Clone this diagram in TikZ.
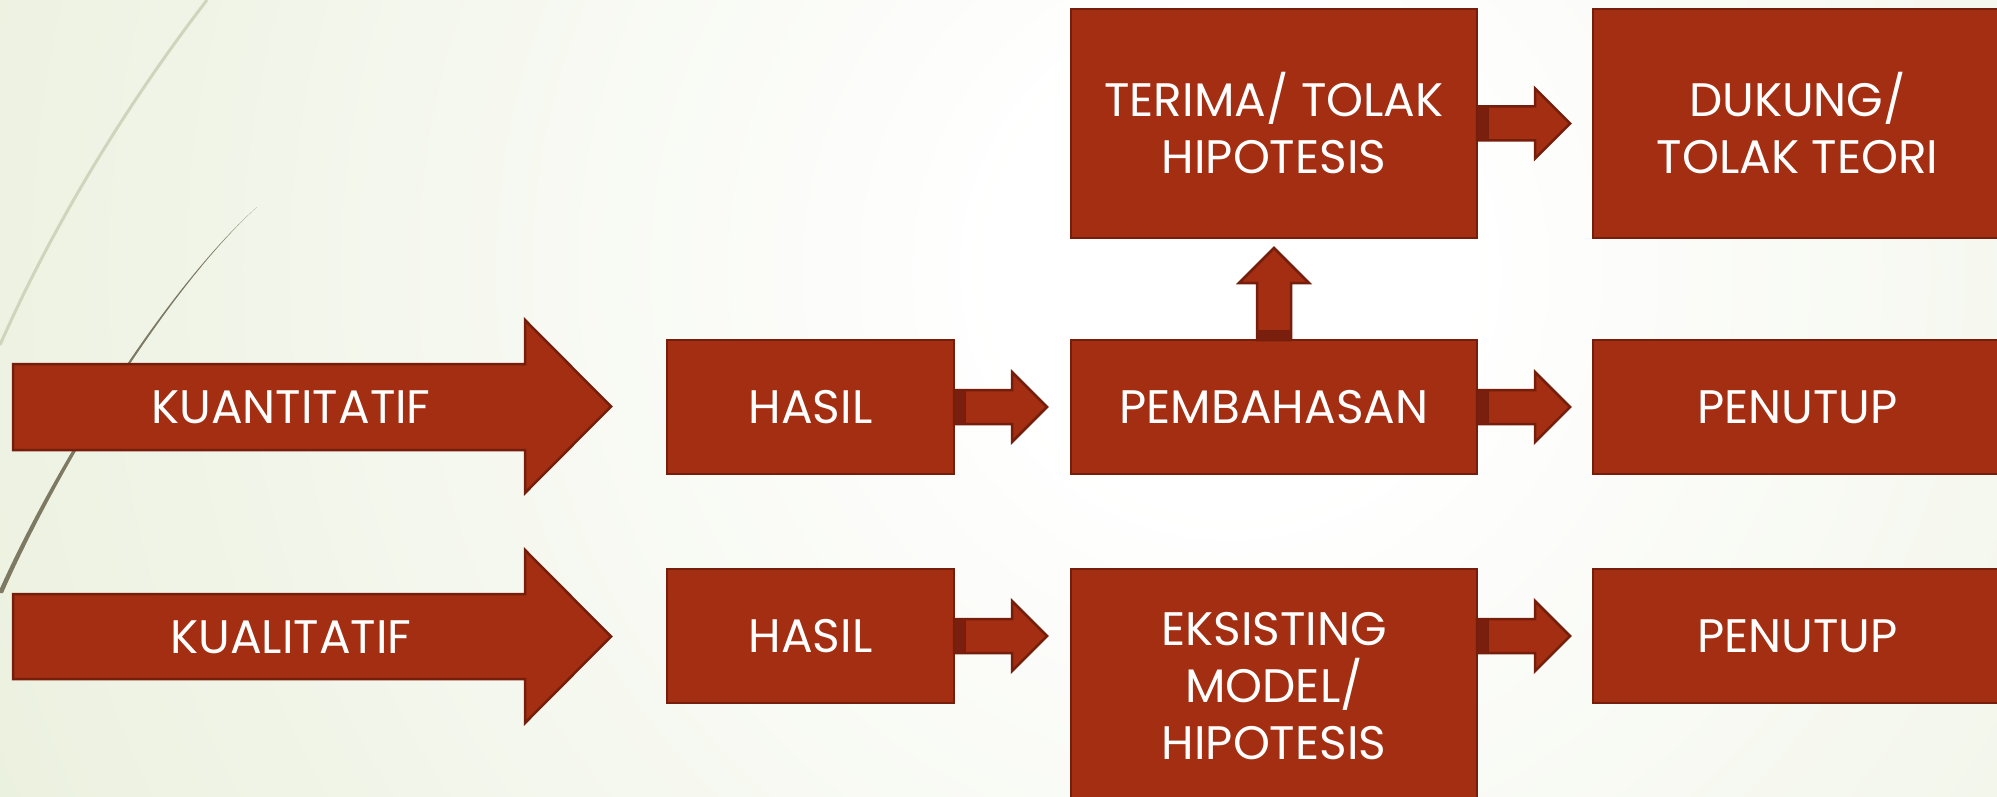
\documentclass[tikz,border=0pt]{standalone}
\usepackage{fontspec}
\setmainfont{Poppins}
\usetikzlibrary{calc}
\definecolor{boxfill}{RGB}{164,46,18}
\definecolor{boxline}{RGB}{118,30,12}
\definecolor{bandc}{RGB}{122,31,13}
\definecolor{bgout}{RGB}{226,234,208}
\definecolor{curvelight}{RGB}{206,213,188}
\definecolor{curvedark}{RGB}{125,121,98}
\pgfdeclareradialshading{bgshade}{\pgfpoint{0bp}{0bp}}{color(0bp)=(white); color(4bp)=(white); color(32bp)=(bgout); color(50bp)=(bgout)}
\newcommand\rightblock[1]{%
  \draw[blockarrow] ($(#1)+(0,-17)$) -- ++(58,0) -- ++(0,-18) -- ++(35,35) -- ++(-35,35) -- ++(0,-18) -- ++(-58,0) -- cycle;
  \draw[bandstyle] ($(#1)+(0,-17)$) rectangle ($(#1)+(11,17)$);}
\begin{document}
\begin{tikzpicture}[x=1pt,y=-1pt,
  box/.style={draw=boxline, fill=boxfill, line width=2.5pt, inner sep=0pt, outer sep=0pt,
    text=white, align=center, font=\fontsize{47}{57}\selectfont},
  txt/.style={text=white, align=center, inner sep=0pt, font=\fontsize{47}{57}\selectfont},
  bigarrow/.style={draw=boxline, fill=boxfill, line width=2.5pt, line join=miter},
  blockarrow/.style={draw=boxline, fill=boxfill, line width=2.5pt, line join=miter},
  bandstyle/.style={draw=boxline, fill=bandc, line width=1pt}]
\useasboundingbox (0,0) rectangle (1997,797);
% background
\fill[bgout] (0,0) rectangle (1997,797);
\begin{scope}
  \clip (0,0) rectangle (1997,797);
  \shade[shading=bgshade] (1230,270) circle[radius=1450pt];
  % decorative curves
  \draw[curvelight, line width=3pt] (207,0) .. controls (110.7,125) and (41.7,250) .. (0,345);
  \fill[curvedark] (257,207) .. controls (167,287) and (55,465) .. (-2,593) -- (3,593) .. controls (59,466) and (168,288) .. (257,207) -- cycle;
\end{scope}
% big arrows
\draw[bigarrow] (13,364) -- (525,364) -- (525,320) -- (611,406.5) -- (525,493) -- (525,450) -- (13,450) -- cycle;
\node[txt] (kuan) at (291,407) {KUANTITATIF};
\draw[bigarrow] (13,594) -- (525,594) -- (525,550) -- (611,636.5) -- (525,723) -- (525,679) -- (13,679) -- cycle;
\node[txt] (kual) at (291,637) {KUALITATIF};
% boxes
\node[box, minimum width=287pt, minimum height=134pt] (hasil1) at (810.5,407) {HASIL};
\node[box, minimum width=287pt, minimum height=134pt] (hasil2) at (810.5,636) {HASIL};
\node[box, minimum width=406pt, minimum height=134pt] (pemb) at (1274,407) {PEMBAHASAN};
\node[box, minimum width=406pt, minimum height=229pt] (terima) at (1274,123.5) {TERIMA/ TOLAK\\HIPOTESIS};
\node[box, minimum width=406pt, minimum height=234pt] (eks) at (1274,686) {EKSISTING\\MODEL/\\HIPOTESIS};
\node[box, minimum width=409pt, minimum height=229pt] (dukung) at (1797.5,123.5) {DUKUNG/\\TOLAK TEORI};
\node[box, minimum width=409pt, minimum height=134pt] (pen1) at (1797.5,407) {PENUTUP};
\node[box, minimum width=409pt, minimum height=134pt] (pen2) at (1797.5,636) {PENUTUP};
% connectors
\rightblock{hasil1.east}
\rightblock{hasil2.east}
\rightblock{pemb.east}
\rightblock{eks.east |- pen2.west}
\rightblock{terima.east}
\draw[blockarrow] ($(pemb.north)+(-17,0)$) -- ++(0,-57) -- ++(-18,0) -- ++(35,-35) -- ++(35,35) -- ++(-18,0) -- ++(0,57) -- cycle;
\draw[bandstyle] ($(pemb.north)+(-17,0)$) rectangle ($(pemb.north)+(17,-10)$);
\end{tikzpicture}
\end{document}
